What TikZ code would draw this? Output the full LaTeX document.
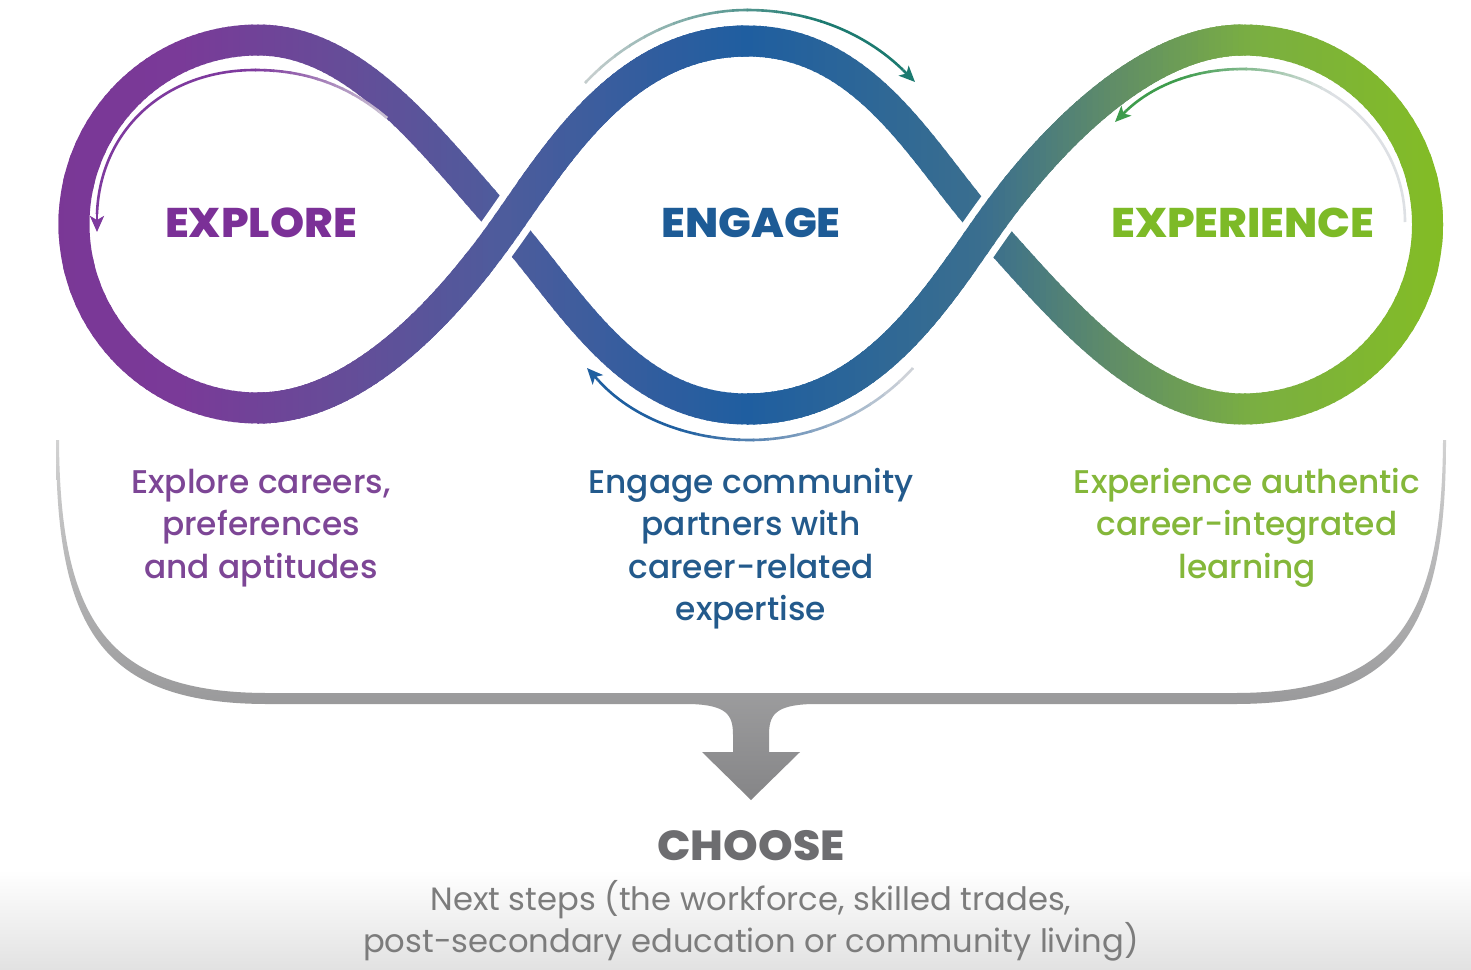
\documentclass[tikz,border=0pt]{standalone}
\usepackage{fontspec}
\setmainfont{Poppins}
\newfontfamily\heavyfont{Poppins}[UprightFont={* ExtraBold}, FakeStretch=1.05]
\newfontfamily\mediumfont{Poppins}[UprightFont={* Medium}]
\usetikzlibrary{arrows.meta}

% ribbon colour stops, left to right
\definecolor{g0}{HTML}{7A3796}
\definecolor{g1}{HTML}{7A3A98}
\definecolor{g2}{HTML}{664C98}
\definecolor{g3}{HTML}{4D5C9C}
\definecolor{g4}{HTML}{1F5EA0}
\definecolor{g5}{HTML}{3B6F8E}
\definecolor{g6}{HTML}{5F8C68}
\definecolor{g7}{HTML}{7AAE42}
\definecolor{g8}{HTML}{84BE22}
% small arrows
\definecolor{aPurple}{HTML}{7E3A9E}
\definecolor{aGrayP}{HTML}{CFCBD6}
\definecolor{aTeal}{HTML}{1C7A70}
\definecolor{aGrayT}{HTML}{C9D0D0}
\definecolor{aBlue}{HTML}{1F5FA0}
\definecolor{aGrayB}{HTML}{D3D6DA}
\definecolor{aGreen}{HTML}{3E9C4C}
\definecolor{aGrayG}{HTML}{DDE0E4}
% text
\definecolor{hExploreC}{HTML}{7B3097}
\definecolor{hEngageC}{HTML}{1D5B96}
\definecolor{hExperC}{HTML}{7DBA27}
\definecolor{tExploreC}{HTML}{7D4696}
\definecolor{tEngageC}{HTML}{235A8C}
\definecolor{tExperC}{HTML}{84B73A}
\definecolor{chooseC}{HTML}{6D6D70}
\definecolor{nextC}{HTML}{7C7C7C}
% bracket and ground
\definecolor{brTop}{HTML}{D2D2D2}
\definecolor{brBot}{HTML}{858587}
\definecolor{bgGray}{HTML}{E2E2E2}

% stroke a path with a horizontal colour ramp between two x positions
\newcommand\gradstroke[5]{%
  \begin{scope}\clip (0,0) rectangle (#2+1,969); \draw[thinarrow, draw=#4] #1; \end{scope}
  \foreach \k in {1,...,16}{%
    \pgfmathsetmacro{\gL}{#2+(#3-#2)*(\k-1)/16}%
    \pgfmathsetmacro{\gR}{#2+(#3-#2)*\k/16+1.5}%
    \pgfmathtruncatemacro{\gp}{round(100*(\k-0.5)/16)}%
    \colorlet{gsc}{#5!\gp!#4}%
    \begin{scope}\clip (\gL,0) rectangle (\gR,969); \draw[thinarrow, draw=gsc] #1; \end{scope}
  }
  \begin{scope}\clip (#3,0) rectangle (1471,969); \draw[thinarrow, draw=#5] #1; \end{scope}
}

% run some drawing commands in narrow overlapping vertical strips,
% each strip with its own colour slc taken from the ribbon ramp
\newcommand\ribbonpass[1]{%
  \foreach \xa/\xb/\ca/\cb in {40/180/g0/g1, 180/340/g1/g2, 340/506/g2/g3,
      506/747/g3/g4, 747/987/g4/g5, 987/1110/g5/g6, 1110/1250/g6/g7, 1250/1460/g7/g8}{%
    \pgfmathtruncatemacro{\nsl}{ceil((\xb-\xa)/6)}%
    \foreach \k in {1,...,\nsl}{%
      \pgfmathsetmacro{\slL}{\xa+(\xb-\xa)*(\k-1)/\nsl}%
      \pgfmathsetmacro{\slR}{\xa+(\xb-\xa)*\k/\nsl+2}%
      \pgfmathtruncatemacro{\pc}{round(100*(\k-0.5)/\nsl)}%
      \colorlet{slc}{\cb!\pc!\ca}%
      \begin{scope}
        \clip (\slL,0) rectangle (\slR,460);
        #1
      \end{scope}
    }
  }
}

\begin{document}
\begin{tikzpicture}[x=0.5pt,y=-0.5pt,
  band/.style={line width=15.5pt, line join=round},
  bandgap/.style={line width=22.5pt, draw=white},
  thinarrow/.style={line width=1.3pt},
  headtip/.style={line width=1.3pt, -{Stealth[length=8pt,width=7pt,inset=2pt]}},
  heading/.style={font=\heavyfont\fontsize{20.7}{24}\selectfont, anchor=base, inner sep=0pt},
  blurb/.style={font=\mediumfont\fontsize{16.4}{20}\selectfont, anchor=base, inner sep=0pt},
]
\useasboundingbox (0,0) rectangle (1471,969);
\fill[white] (0,0) rectangle (1471,969);
\shade[top color=white, bottom color=bgGray] (0,870) rectangle (1471,969);

% key points of the ribbon centre line
\coordinate (X1) at (506,226);
\coordinate (X2) at (987,227);
\coordinate (T1) at (258,40);
\coordinate (L1) at (74,224);
\coordinate (B1) at (258,408);
\coordinate (T2) at (747,41);
\coordinate (B2) at (747,409);
\coordinate (T3) at (1243,40);
\coordinate (R3) at (1427.5,224.5);
\coordinate (B3) at (1243,409);

\def\fullloop{(X1) .. controls (560.5,148.2) and (627,41) .. (T2)
  .. controls (867,41) and (923.4,156.4) .. (X2)
  .. controls (1060.6,308.7) and (1143,409) .. (B3)
  .. controls (1344.9,409) and (1427.5,326.4) .. (R3)
  .. controls (1427.5,122.6) and (1344.9,40) .. (T3)
  .. controls (1143,40) and (1044.4,145.1) .. (X2)
  .. controls (932.5,304.8) and (867,409) .. (B2)
  .. controls (627,409) and (569.6,296.6) .. (X1)
  .. controls (432.4,144.3) and (358,40) .. (T1)
  .. controls (156.4,40) and (74,122.4) .. (L1)
  .. controls (74,325.6) and (156.4,408) .. (B1)
  .. controls (358,408) and (448.6,307.9) .. (X1)}
% strands passing over at the two crossings
\def\overone{(B1) .. controls (358,408) and (448.6,307.9) .. (X1)
  .. controls (560.5,148.2) and (627,41) .. (T2)}
\def\overtwo{(T3) .. controls (1143,40) and (1044.4,145.1) .. (X2)
  .. controls (932.5,304.8) and (867,409) .. (B2)}

% the whole ribbon
\ribbonpass{\draw[band, draw=slc] \fullloop;}
% white clearance round the crossings, where the upper strands pass over
\begin{scope}
  \clip (X1) circle [radius=22.5pt];
  \draw[bandgap] \overone;
\end{scope}
\begin{scope}
  \clip (X2) circle [radius=22.5pt];
  \draw[bandgap] \overtwo;
\end{scope}
% the upper strands again on top
\ribbonpass{\draw[band, draw=slc] \overone; \draw[band, draw=slc] \overtwo;}

% small circulation arrows
\coordinate (aLs) at (387,118);  \coordinate (aLm) at (97,214);  \coordinate (aLe) at (97,232);
\coordinate (aTs) at (585,83);   \coordinate (aTm) at (903,70);  \coordinate (aTe) at (915,82);
\coordinate (aBs) at (913,368);  \coordinate (aBm) at (598,380); \coordinate (aBe) at (587,368);
\coordinate (aRs) at (1405,222); \coordinate (aRm) at (1126,111);\coordinate (aRe) at (1115,122);

\gradstroke{(aLs) .. controls (345,82) and (300,70) .. (255,70)
  .. controls (165,70) and (100,130) .. (aLm)}{255}{395}{aPurple}{aGrayP}
\draw[headtip, draw=aPurple, fill=aPurple] (aLm) -- (aLe);

\gradstroke{(aTs) .. controls (630,35) and (690,10) .. (747,10)
  .. controls (810,10) and (865,33) .. (aTm)}{585}{820}{aGrayT}{aTeal}
\draw[headtip, draw=aTeal, fill=aTeal] (aTm) -- (aTe);

\gradstroke{(aBs) .. controls (870,415) and (810,440) .. (750,440)
  .. controls (690,440) and (632,418) .. (aBm)}{680}{913}{aBlue}{aGrayB}
\draw[headtip, draw=aBlue, fill=aBlue] (aBm) -- (aBe);

\gradstroke{(aRs) .. controls (1405,140) and (1335,69) .. (1243,69)
  .. controls (1190,69) and (1150,88) .. (aRm)}{1180}{1330}{aGreen}{aGrayG}
\draw[headtip, draw=aGreen, fill=aGreen] (aRm) -- (aRe);

% headings
\node[heading, text=hExploreC] (hExplore) at (261,237) {EXPLORE};
\node[heading, text=hEngageC]  (hEngage)  at (751,237) {ENGAGE};
\node[heading, text=hExperC]   (hExper)   at (1243,237) {EXPERIENCE};

% descriptions
\node[blurb, text=tExploreC] (ex1) at (261,493)   {Explore careers,};
\node[blurb, text=tExploreC] (ex2) at (261,535.5) {preferences};
\node[blurb, text=tExploreC] (ex3) at (261,578)   {and aptitudes};

\node[blurb, text=tEngageC] (en1) at (751,493)   {Engage community};
\node[blurb, text=tEngageC] (en2) at (751,535.5) {partners with};
\node[blurb, text=tEngageC] (en3) at (751,578)   {career-related};
\node[blurb, text=tEngageC] (en4) at (751,620.5) {expertise};

\node[blurb, text=tExperC] (xp1) at (1247,493)   {Experience authentic};
\node[blurb, text=tExperC] (xp2) at (1247,535.5) {career-integrated};
\node[blurb, text=tExperC] (xp3) at (1247,578)   {learning};

% grey bracket gathering the three stages into one downward arrow
\shade[top color=brTop, bottom color=brBot]
  (56,440) .. controls (56,625) and (98,704) .. (268,704) -- (690,704)
  .. controls (727,705) and (733,715) .. (733,735) -- (733,752) -- (702,752)
  -- (751,800) -- (800,752) -- (769,752) -- (769,735)
  .. controls (769,715) and (775,705) .. (812,704) -- (1234,704)
  .. controls (1404,704) and (1446,625) .. (1446,440) -- (1443,440)
  .. controls (1442,622) and (1394,693) .. (1234,693) -- (268,693)
  .. controls (108,693) and (60,622) .. (59,440) -- cycle;

% outcome
\node[heading, text=chooseC, font=\heavyfont\fontsize{21}{24}\selectfont] (choose) at (751,860) {CHOOSE};
\node[blurb, text=nextC, font=\fontsize{16.1}{19}\selectfont] (next1) at (751,910) {Next steps (the workforce, skilled trades,};
\node[blurb, text=nextC, font=\fontsize{16.1}{19}\selectfont] (next2) at (751,952) {post-secondary education or community living)};
\end{tikzpicture}
\end{document}
